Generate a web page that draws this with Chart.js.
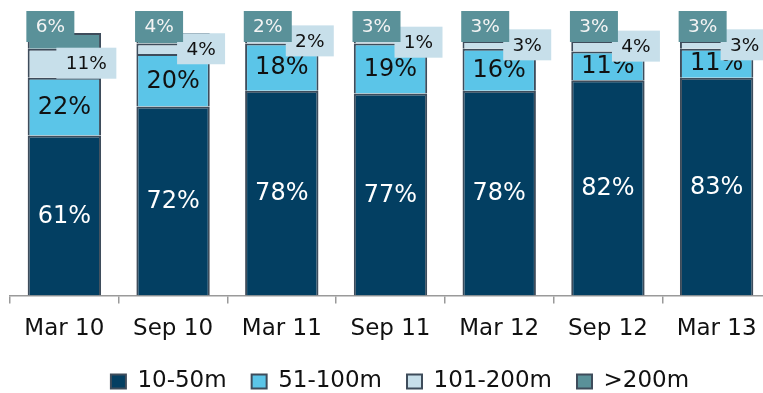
<!DOCTYPE html>
<html>
<head>
<meta charset="utf-8">
<script src="https://cdn.jsdelivr.net/npm/chart.js@4.4.1/dist/chart.umd.min.js"></script>
<style>
  html, body { margin: 0; padding: 0; background: #fff; overflow: hidden; }
  #wrap { position: relative; width: 771px; height: 403px; }
</style>
</head>
<body>
<div id="wrap"><canvas id="chart"></canvas></div>
<script>
/* Vessel size mix — share of fleet by length band */

const labels = ['Mar 10', 'Sep 10', 'Mar 11', 'Sep 11', 'Mar 12', 'Sep 12', 'Mar 13'];

const s10to50   = [61, 72, 78, 77, 78, 82, 83];
const s51to100  = [22, 20, 18, 19, 16, 11, 11];
const s101to200 = [11, 4, 2, 1, 3, 4, 3];
const sOver200  = [6, 4, 2, 3, 3, 3, 3];

const seriesNames = ['10-50m', '51-100m', '101-200m', '>200m'];
const colors = ['#033F62', '#5BC5E8', '#C7DFEA', '#5A9199'];
const EDGE = '#3E4C5B';
const FONT = 'DejaVu Sans';

// data labels drawn straight off the bar elements
const barLabels = {
  id: 'barLabels',
  afterDatasetsDraw(chart){
    const ctx = chart.ctx;
    ctx.save();
    ctx.textAlign = 'center';
    ctx.textBaseline = 'middle';

    chart.data.datasets.forEach((ds, i) => {
      const meta = chart.getDatasetMeta(i);
      meta.data.forEach((bar, j) => {
        const txt = ds.data[j] + '%';
        const mid = (bar.y + bar.base) / 2;

        if(i === 0 || i === 1){
          ctx.font = `24px "${FONT}"`;
          ctx.fillStyle = i === 0 ? '#ffffff' : '#111111';
          ctx.fillText(txt, bar.x, mid + 1);
          return;
        }

        ctx.font = `18.5px "${FONT}"`;
        const w = Math.round(ctx.measureText(txt).width) + 19;
        const h = 31;
        let left, top;
        if(i === 2){
          left = bar.x + 52 - w;        // pale box sits off to the right
          top  = mid - h / 2;
          ctx.fillStyle = colors[2];
          ctx.fillRect(left, top, w, h);
          ctx.fillStyle = '#111111';
        }else{
          left = bar.x - 38;            // teal box hangs over the top-left corner
          top  = bar.y - 22;
          ctx.fillStyle = colors[3];
          ctx.fillRect(left, top, w, h);
          ctx.fillStyle = '#f4f4f4';
        }
        ctx.fillText(txt, left + w / 2, top + h / 2 + 1);
      });
    });
    ctx.restore();
  }
};

// nudge the legend right so it centres like the original
const legendShift = {
  id: 'legendShift',
  afterLayout(chart){
    const lg = chart.legend;
    if(!lg) return;
    lg.left += 9.5; lg.right += 9.5;
  }
};

const series = [s10to50, s51to100, s101to200, sOver200];

new Chart(document.getElementById('chart'), {
  type: 'bar',
  data: {
    labels,
    datasets: series.map((d, i) => ({
      label: seriesNames[i],
      data: d,
      backgroundColor: colors[i],
      borderColor: EDGE,
      borderWidth: 2,
      categoryPercentage: 1,
      barPercentage: 0.675
    }))
  },
  options: {
    responsive: true,
    maintainAspectRatio: false,
    animation: false,
    layout: { padding: { top: 33, left: 10, right: 0, bottom: 0 } },
    plugins: {
      legend: {
        position: 'bottom',
        labels: {
          boxWidth: 15,
          boxHeight: 14,
          padding: 25,
          color: '#111111',
          font: { family: FONT, size: 23 }
        }
      },
      tooltip: { enabled: false }
    },
    scales: {
      x: {
        stacked: true,
        afterFit(scale){ scale.height = 49.4; },
        grid: {
          display: true,
          drawOnChartArea: false,
          drawTicks: true,
          tickLength: 8,
          color: '#9a9a9a',
          lineWidth: 1.5
        },
        border: { display: true, color: '#9a9a9a', width: 1.5 },
        ticks: {
          color: '#111111',
          padding: 11.4,
          font: { family: FONT, size: 23 }
        }
      },
      y: {
        stacked: true,
        display: false,
        min: 0,
        max: 100
      }
    }
  },
  plugins: [barLabels, legendShift]
});
</script>
</body>
</html>
